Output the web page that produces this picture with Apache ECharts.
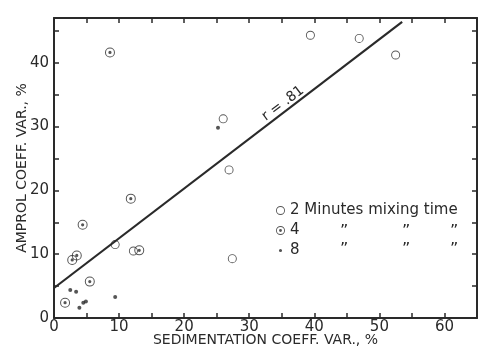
<!DOCTYPE html>
<html>
<head>
<meta charset="utf-8">
<script src="https://cdn.jsdelivr.net/npm/echarts@6/dist/echarts.min.js"></script>
<style>html,body{margin:0;padding:0;background:#fff}#c{width:483px;height:353px}</style>
</head>
<body>
<div id="c"></div>
<script>
// Data
const xTicks = [0, 10, 20, 30, 40, 50, 60];
const yTicks = [0, 10, 20, 30, 40];
const min2 = [[39.4, 44.3], [46.9, 43.8], [52.5, 41.2], [26.0, 31.2], [26.9, 23.2], [27.4, 9.3], [9.4, 11.5], [12.2, 10.5]];
const min4 = [[8.6, 41.6], [4.4, 14.6], [11.8, 18.7], [5.5, 5.7], [1.7, 2.4], [13.1, 10.6], [2.8, 9.1], [3.5, 9.8]];
const min8 = [[25.2, 29.8], [2.5, 4.4], [3.4, 4.1], [3.9, 1.6], [4.5, 2.4], [4.9, 2.6], [9.4, 3.3]];
const fitLine = [[0, 4.7], [53.5, 46.4]];
const rLabel = 'r = .81';

const FONT = 'DejaVu Sans';
const INK = '#2a2a2a';
const ring = 'path://M10,0 A10,10 0 1,1 10,20 A10,10 0 1,1 10,0 Z M10,2 A8,8 0 1,0 10,18 A8,8 0 1,0 10,2 Z';
const dotCircle = 'path://M10,0 A10,10 0 1,1 10,20 A10,10 0 1,1 10,0 Z M10,2 A8,8 0 1,0 10,18 A8,8 0 1,0 10,2 Z M10,6.8 A3.2,3.2 0 1,1 10,13.2 A3.2,3.2 0 1,1 10,6.8 Z';
const smallDot = 'path://M0,0 L0.01,0 Z M20,20 L20.01,20 Z M10,6.5 A3.5,3.5 0 1,1 10,13.5 A3.5,3.5 0 1,1 10,6.5 Z';

const chart = echarts.init(document.getElementById('c'), null, {renderer: 'canvas'});
const fmt = v => (v % 10 === 0 ? String(v) : '');
const baseAxis = {
  axisLine: {show: true, onZero: false, lineStyle: {color: INK, width: 2}},
  axisTick: {show: true, inside: true, length: 5, lineStyle: {color: INK, width: 1.5}},
  splitLine: {show: false}
};
chart.setOption({
  animation: false,
  backgroundColor: '#fff',
  grid: {left: 54, right: 6, top: 18, bottom: 35, containLabel: false, outerBoundsMode: 'none'},
  xAxis: [
    Object.assign({}, baseAxis, {
      type: 'value', min: 0, max: 65, interval: 5, position: 'bottom',
      axisLabel: {formatter: fmt, color: INK, fontFamily: FONT, fontSize: 15, margin: 2, showMaxLabel: false},
      name: 'SEDIMENTATION COEFF. VAR., %', nameLocation: 'middle', nameGap: 15, nameMoveOverlap: false,
      nameTextStyle: {color: INK, fontFamily: FONT, fontSize: 14}
    }),
    Object.assign({}, baseAxis, {
      type: 'value', min: 0, max: 65, interval: 5, position: 'top', axisLabel: {show: false}
    })
  ],
  yAxis: [
    Object.assign({}, baseAxis, {
      type: 'value', min: 0, max: 47, interval: 5, position: 'left',
      axisLabel: {formatter: fmt, color: INK, fontFamily: FONT, fontSize: 15, margin: 5, showMaxLabel: false},
      name: 'AMPROL COEFF. VAR., %', nameLocation: 'middle', nameGap: 25, nameMoveOverlap: false,
      nameTextStyle: {color: INK, fontFamily: FONT, fontSize: 14}
    }),
    Object.assign({}, baseAxis, {
      type: 'value', min: 0, max: 47, interval: 5, position: 'right', axisLabel: {show: false}
    })
  ],
  legend: {
    orient: 'vertical', left: 271, top: 198, itemGap: 5, itemWidth: 9, itemHeight: 9,
    textStyle: {color: INK, fontFamily: FONT, fontSize: 15},
    data: [
      {name: '2 Minutes mixing time', icon: ring},
      {name: '4', icon: dotCircle},
      {name: '8', icon: smallDot}
    ]
  },
  series: [
    {type: 'line', data: fitLine, showSymbol: false, symbol: 'none', silent: true,
      lineStyle: {color: INK, width: 2.2}, z: 2},
    {name: '2 Minutes mixing time', type: 'scatter', data: min2, symbol: ring, symbolSize: 9,
      itemStyle: {color: INK}, z: 3},
    {name: '4', type: 'scatter', data: min4, symbol: dotCircle, symbolSize: 10,
      itemStyle: {color: INK}, z: 3},
    {name: '8', type: 'scatter', data: min8, symbol: 'circle', symbolSize: 4,
      itemStyle: {color: INK}, z: 3}
  ]
});

// annotation text: correlation label along the line, ditto marks in legend
const p = chart.convertToPixel({gridIndex: 0}, [35.2, 33.6]);
const ditto = [];
[229, 247].forEach(y => {
  [340, 402, 450].forEach(x => {
    ditto.push({type: 'text', left: x, top: y - 5, style: {text: '\u201D', fill: INK, font: '16px ' + FONT}});
  });
});
chart.setOption({
  graphic: [
    {type: 'text', x: p[0], y: p[1], rotation: 37 * Math.PI / 180,
      style: {text: rLabel, fill: INK, font: '14px ' + FONT, align: 'center', verticalAlign: 'middle'}}
  ].concat(ditto)
});
</script>
</body>
</html>
